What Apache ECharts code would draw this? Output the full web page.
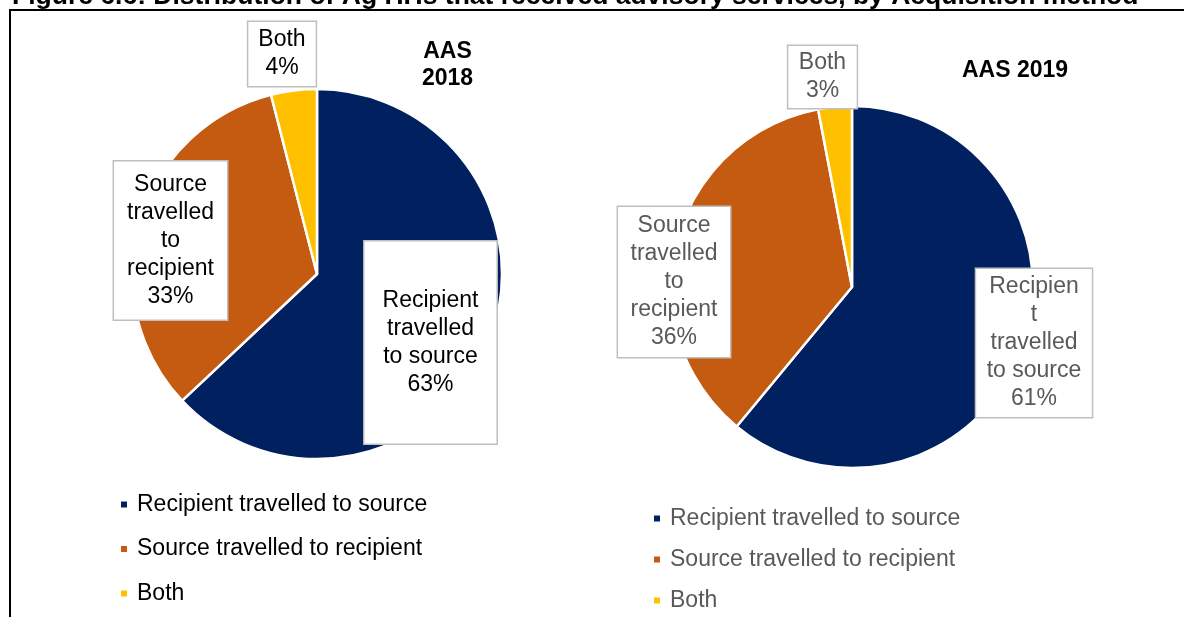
<!DOCTYPE html>
<html>
<head>
<meta charset="utf-8">
<script src="https://cdn.jsdelivr.net/npm/echarts@6/dist/echarts.min.js"></script>
<style>
  html, body { margin: 0; padding: 0; background: #ffffff; }
  #chart { width: 1184px; height: 617px; }
</style>
</head>
<body>
<div id="chart"></div>
<script>
// ---- data ----
const categories = ['Recipient travelled to source', 'Source travelled to recipient', 'Both'];
const values2018 = [63, 33, 4];
const values2019 = [61, 36, 3];
const chartTitles = ['AAS\n2018', 'AAS 2019'];
const figureTitle = 'Figure 6.6: Distribution of Ag HHs that received advisory services, by Acquisition method';
// label wrapping (text layout of the category names in the boxes)
const wrapped2018 = ['Recipient\ntravelled\nto source', 'Source\ntravelled\nto\nrecipient', 'Both'];
const wrapped2019 = ['Recipien\nt\ntravelled\nto source', 'Source\ntravelled\nto\nrecipient', 'Both'];

// ---- styles ----
const FONT = "'Liberation Sans', Arial, sans-serif";
const FS = 23;
const colors = ['#002060', '#C55A11', '#FFC000'];
const pies = [
  { center: [317, 274], radius: 185, text: '#000000', wrapped: wrapped2018, values: values2018,
    boxes: [ { c: [430.5, 342.5], pad: [45, 18] }, { c: [170.5, 240.5], pad: [9, 13] }, { c: [282, 54], pad: [4, 10] } ] },
  { center: [852, 287], radius: 181, text: '#595959', wrapped: wrapped2019, values: values2019,
    boxes: [ { c: [1034, 343], pad: [4, 10.5] }, { c: [674, 282], pad: [5, 12.5] }, { c: [822.5, 77], pad: [3, 10.5] } ] }
];

const chart = echarts.init(document.getElementById('chart'), null, { renderer: 'canvas' });

const series = pies.map((p, si) => ({
  type: 'pie',
  center: p.center,
  radius: [0, p.radius],
  startAngle: 90,
  clockwise: true,
  avoidLabelOverlap: false,
  animation: false,
  itemStyle: { borderColor: '#ffffff', borderWidth: 2.5 },
  labelLine: { show: false },
  emphasis: { disabled: true },
  data: categories.map((name, i) => ({
    name: name,
    value: p.values[i],
    itemStyle: { color: colors[i] },
    label: {
      show: true,
      position: 'inside',
      formatter: () => p.wrapped[i] + '\n' + p.values[i] + '%',
      fontFamily: FONT,
      fontSize: FS,
      lineHeight: 28,
      color: p.text,
      align: 'center',
      backgroundColor: '#ffffff',
      borderColor: '#bfbfbf',
      borderWidth: 1.5,
      padding: p.boxes[i].pad
    }
  })),
  labelLayout: (params) => {
    const b = pies[si].boxes[params.dataIndex];
    return { x: b.c[0], y: b.c[1], align: 'center', verticalAlign: 'middle' };
  }
}));

const option = {
  backgroundColor: '#ffffff',
  animation: false,
  legend: [
    {
      orient: 'vertical', left: 119, top: 493, height: 130, padding: 0,
      data: categories, icon: 'rect', itemWidth: 8, itemHeight: 8, itemGap: 21.5,
      selectedMode: false,
      textStyle: { fontFamily: FONT, fontSize: FS, color: '#000000', padding: [0, 0, 0, 4] }
    },
    {
      orient: 'vertical', left: 652, top: 507, height: 130, padding: 0,
      data: categories, icon: 'rect', itemWidth: 8, itemHeight: 8, itemGap: 18,
      selectedMode: false,
      textStyle: { fontFamily: FONT, fontSize: FS, color: '#595959', padding: [0, 0, 0, 4] }
    }
  ],
  graphic: [
    { type: 'line', shape: { x1: 9, y1: 10, x2: 1184, y2: 10 }, style: { stroke: '#000', lineWidth: 2 } },
    { type: 'line', shape: { x1: 10, y1: 9, x2: 10, y2: 617 }, style: { stroke: '#000', lineWidth: 2 } },
    { type: 'text', x: 12, y: -3, z: -1, style: { text: figureTitle, font: 'bold 26.5px ' + FONT, fill: '#000', verticalAlign: 'middle', align: 'left' } },
    { type: 'text', x: 447.5, y: 65, style: { text: chartTitles[0], font: 'bold 23px ' + FONT, fill: '#000', align: 'center', verticalAlign: 'middle', lineHeight: 27 } },
    { type: 'text', x: 1015, y: 71, style: { text: chartTitles[1], font: 'bold 23px ' + FONT, fill: '#000', align: 'center', verticalAlign: 'middle' } }
  ],
  series: series
};
chart.setOption(option);
</script>
</body>
</html>
